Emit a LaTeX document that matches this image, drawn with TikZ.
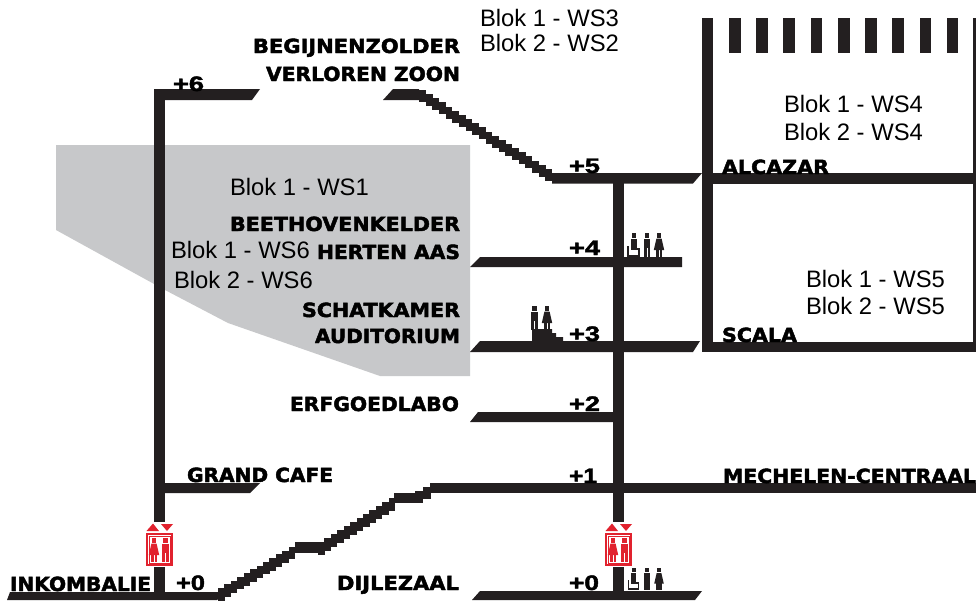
\documentclass[tikz,border=0pt]{standalone}
\usepackage{fontspec}
\usepackage{graphicx}
\setmainfont{Liberation Sans}
\newfontfamily\hvlab[FakeBold=2.2]{DejaVu Sans Bold}
\newfontfamily\hvnum[FakeBold=1.8]{Liberation Sans Bold}
\definecolor{ink}{HTML}{231F20}
\definecolor{lift}{HTML}{E1222E}
\definecolor{greyarea}{HTML}{C7C8CA}
\tikzset{
  txt/.style={anchor=base west,inner sep=0pt,outer sep=0pt,text=black},
}
\newcommand{\lab}[5]{\pgfmathsetmacro{\boxw}{#3-#2}\node[txt,text=black] (#1) at (#2,#4) {\resizebox{\boxw pt}{\height}{\fontsize{19.5}{19.5}\hvlab #5}};}
\newcommand{\num}[5]{\pgfmathsetmacro{\boxw}{#3-#2}\node[txt,text=black] (#1) at (#2,#4) {\resizebox{\boxw pt}{\height}{\fontsize{21}{21}\hvnum #5}};}
\newcommand{\blok}[4]{\node[txt] (#1) at (#2,#3) {\fontsize{23.8}{23.8}\selectfont #4};}
\newcommand{\stairs}[6]{% x0,ytop0,x1,ytop1,n,thickness
  \pgfmathsetmacro{\stepx}{(#3-#1)/#5}\pgfmathsetmacro{\stepy}{(#4-#2)/#5}
  \pgfmathtruncatemacro{\laststep}{#5-1}
  \foreach \i in {0,...,\laststep}{
    \fill[ink] ({#1+\i*\stepx},{#2+\i*\stepy}) rectangle ({#1+(\i+1)*\stepx+0.2},{#2+\i*\stepy+#6});
  }}
\newcommand{\man}[4]{\begin{scope}[shift={(#1,#2)},yscale=#3/24,xscale=#3/24]
  \fill[#4] (-2.4,-24) rectangle (2.4,-19.4);
  \fill[#4] (-3.4,-18.4) rectangle (3.4,-9);
  \fill[#4] (-3.4,-9) rectangle (-0.5,0);
  \fill[#4] (0.5,-9) rectangle (3.4,0);
\end{scope}}
\newcommand{\woman}[4]{\begin{scope}[shift={(#1,#2)},yscale=#3/24,xscale=#3/24]
  \fill[#4] (-2.4,-24) rectangle (2.4,-19.4);
  \fill[#4] (-2.6,-18.4) -- (2.6,-18.4) -- (5.2,-7) -- (-5.2,-7) -- cycle;
  \fill[#4] (-3,-7.5) rectangle (-0.5,0);
  \fill[#4] (0.5,-7.5) rectangle (3,0);
\end{scope}}
\newcommand{\wheel}[3]{\begin{scope}[shift={(#1,#2)},yscale=#3/24,xscale=#3/24]
  \fill[ink] (-2,-24) rectangle (2.6,-19.4);
  \fill[ink] (-2.8,-18.4) rectangle (3.2,-8);
  \fill[ink] (-6.5,-11) rectangle (-4.4,0);
  \fill[ink] (-6.5,-2) rectangle (6.4,0);
  \fill[ink] (4.5,-9) rectangle (6.4,0);
  \fill[ink] (-2.8,-9) rectangle (6.4,-7);
\end{scope}}
\newcommand{\elevator}[1]{\begin{scope}[shift={(#1,0)}]
  \fill[white] (-1,522) rectangle (29,567);
  \fill[lift] (0.5,531) -- (13,531) -- (7,523.5) -- cycle;
  \fill[lift] (15,524) -- (27,524) -- (21,531) -- cycle;
  \draw[lift,line width=1.6pt] (0.8,533.8) rectangle (26.2,565.2);
  \draw[lift,line width=0.5pt] (3,536) rectangle (24,563);
  \woman{8}{562}{24}{lift}
  \man{19.5}{562}{24}{lift}
\end{scope}}
\begin{document}
\begin{tikzpicture}[x=1pt,y=-1pt]
\useasboundingbox (0,0) rectangle (976,600);
\fill[white] (0,0) rectangle (976,600);
% grey area
\fill[greyarea] (56,145) -- (470,145) -- (470,376) -- (380,376) -- (228,323) -- (165,290) -- (56,230) -- cycle;
% left column
\fill[ink] (154,90) rectangle (165,592);
% +6
\fill[ink] (154,89) -- (260,89) -- (252,100) -- (154,100) -- cycle;
% Verloren Zoon + stairs
\fill[ink] (393,89) -- (419,89) -- (419,100) -- (383,100) -- cycle;
\stairs{419}{90}{552}{173}{20}{12}
% +5
\fill[ink] (552,173) -- (702,173) -- (693,183.5) -- (552,183.5) -- cycle;
% centre column
\fill[ink] (613,180) rectangle (623.5,592);
% +4
\fill[ink] (480,257) -- (682,257) -- (682,267) -- (470,267) -- cycle;
% +3
\fill[ink] (480,341) -- (700,341) -- (693,352) -- (470,352) -- cycle;
% +2
\fill[ink] (478,412) -- (618,412) -- (618,422) -- (470,422) -- cycle;
% +1
\fill[ink] (430,483) rectangle (976,493);
\stairs{218}{588}{295}{543}{12}{12.5}
\fill[ink] (295,542) rectangle (319,552.5);
\stairs{318}{542}{395}{494}{12}{12.5}
\fill[ink] (394,493) rectangle (416,503);
\stairs{415}{491}{431}{483}{2}{11.5}
% Grand Cafe
\fill[ink] (160,483) -- (260,483) -- (250,493) -- (160,493) -- cycle;
% +0 left
\fill[ink] (10,592) -- (225,592) -- (217,600) -- (7,600) -- cycle;
% +0 centre
\fill[ink] (480,591) -- (702,591) -- (695,600) -- (472,600) -- cycle;
% building
\fill[ink] (702,18) rectangle (713,352);
\fill[ink] (972.5,18) rectangle (976,352);
\fill[ink] (702,173) rectangle (976,183.5);
\fill[ink] (702,342) rectangle (976,352);
\foreach \x in {729,756,783,810.5,838,865,892,919.5,946.5}{
  \fill[ink] (\x,18) rectangle ({\x+11.5},53);
}
% lifts
\elevator{146}
\elevator{605}
% pictograms
\wheel{633.5}{257}{24}
\man{647}{257}{24}{ink}
\woman{659}{257}{24}{ink}
\wheel{633.5}{590}{22}
\man{647}{590}{22}{ink}
\woman{659}{590}{22}{ink}
\man{534.5}{330}{24}{ink}
\woman{547}{330}{24}{ink}
\fill[ink] (532,329) -- (552,329) -- (552,333) -- (556,333) -- (556,337) -- (563,337) -- (563,341.5) -- (532,341.5) -- cycle;
% bold labels
\lab{begijn}{253}{460}{53}{BEGIJNENZOLDER}
\lab{verloren}{266}{460}{81}{VERLOREN ZOON}
\lab{beethoven}{230}{460}{231}{BEETHOVENKELDER}
\lab{herten}{317}{460}{259}{HERTEN AAS}
\lab{schat}{302}{460}{317}{SCHATKAMER}
\lab{audit}{315}{460}{343}{AUDITORIUM}
\lab{erfgoed}{290}{459}{411}{ERFGOEDLABO}
\lab{grand}{187}{333}{482}{GRAND CAFE}
\lab{inkom}{10}{151}{591}{INKOMBALIE}
\lab{dijle}{337}{459}{590}{DIJLEZAAL}
\lab{alcazar}{722}{829}{174}{ALCAZAR}
\lab{scala}{722}{797}{342}{SCALA}
\lab{mechelen}{723}{976}{483}{MECHELEN-CENTRAAL}
% level numbers
\num{p6}{173}{204}{91}{+6}
\num{p5}{569}{600}{173}{+5}
\num{p4}{569}{600}{255}{+4}
\num{p3}{569}{600}{341}{+3}
\num{p2}{569}{600}{411}{+2}
\num{p1}{569}{597}{483}{+1}
\num{p0c}{569}{599}{590}{+0}
\num{p0l}{176}{205}{590}{+0}
% workshop labels
\blok{ws3}{480}{26}{Blok 1 - WS3}
\blok{ws2}{480}{51}{Blok 2 - WS2}
\blok{ws4a}{784}{112}{Blok 1 - WS4}
\blok{ws4b}{784}{140}{Blok 2 - WS4}
\blok{ws5a}{806}{287}{Blok 1 - WS5}
\blok{ws5b}{806}{314}{Blok 2 - WS5}
\blok{ws1}{230}{195}{Blok 1 - WS1}
\blok{ws6a}{171}{258}{Blok 1 - WS6}
\blok{ws6b}{174}{288}{Blok 2 - WS6}
\end{tikzpicture}
\end{document}
